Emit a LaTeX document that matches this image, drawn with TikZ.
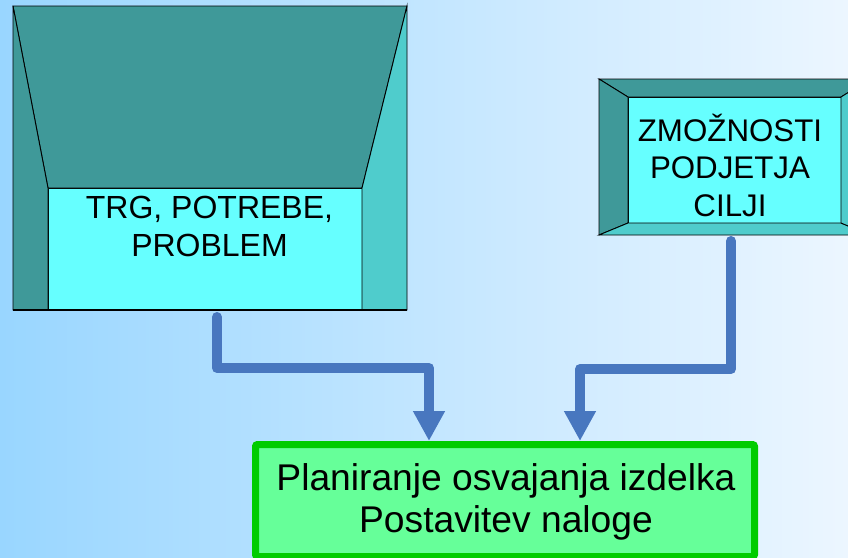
\documentclass[tikz,border=0pt]{standalone}
\usepackage{fontspec}
\setmainfont{Liberation Sans}
\usetikzlibrary{positioning, arrows.meta}
\definecolor{BgBlue}{RGB}{153,214,255}
\definecolor{BgWhite}{RGB}{236,246,255}
\definecolor{TealDark}{RGB}{63,153,153}
\definecolor{TealLight}{RGB}{79,204,204}
\definecolor{CyanFace}{RGB}{102,255,255}
\definecolor{FlowBlue}{RGB}{72,119,191}
\definecolor{PlanGreen}{RGB}{102,255,153}
\definecolor{PlanBorder}{RGB}{0,204,0}
\tikzset{
  facebox/.style={rectangle, draw=black, line width=0.9pt, fill=CyanFace, inner sep=0pt, outer sep=0pt},
  bevel/.style={draw=black, line width=0.9pt, line join=miter},
  boxtext/.style={align=center, inner sep=0pt, text=black},
  planbox/.style={rectangle, rounded corners=2pt, draw=PlanBorder, line width=7pt, fill=PlanGreen, minimum width=499pt, minimum height=112pt},
  flow/.style={draw=FlowBlue, line width=10pt, line join=round, line cap=round, -{Triangle[length=30pt, width=30pt]}}
}

\begin{document}
\begin{tikzpicture}[x=1pt, y=-1pt]
  % background
  \useasboundingbox (0,0) rectangle (848,557);
  \clip (0,0) rectangle (848,557);
  \fill[left color=BgBlue, right color=BgWhite] (0,0) rectangle (848,557);

  % left box
  \node[facebox, minimum width=314pt, minimum height=122pt] (trg) at (205,249) {};
  \coordinate (trgNW) at (13,6);
  \coordinate (trgNE) at (407,6);
  \coordinate (trgSW) at (13,310);
  \coordinate (trgSE) at (407,310);
  \filldraw[bevel, fill=TealDark] (trgNW) -- (trgNE) -- (trg.north east) -- (trg.north west) -- cycle;
  \filldraw[bevel, fill=TealDark] (trgNW) -- (trg.north west) -- (trg.south west) -- (trgSW) -- cycle;
  \filldraw[bevel, fill=TealLight] (trgNE) -- (trgSE) -- (trg.south east) -- (trg.north east) -- cycle;
  \draw[line width=1.6pt] (trgSW) -- (trgSE);
  \node[boxtext, font=\fontsize{32}{38}\selectfont, above=53pt of trg.south, xshift=4.5pt] (trgtext) {TRG, POTREBE,\\PROBLEM};

  % right box
  \node[facebox, minimum width=213pt, minimum height=126pt] (zmoz) at (734.5,160) {};
  \coordinate (zmozNW) at (599,79);
  \coordinate (zmozNE) at (870,79);
  \coordinate (zmozSW) at (599,235);
  \coordinate (zmozSE) at (870,235);
  \filldraw[bevel, fill=TealDark] (zmozNW) -- (zmozNE) -- (zmoz.north east) -- (zmoz.north west) -- cycle;
  \filldraw[bevel, fill=TealDark] (zmozNW) -- (zmoz.north west) -- (zmoz.south west) -- (zmozSW) -- cycle;
  \filldraw[bevel, fill=TealLight] (zmozSW) -- (zmoz.south west) -- (zmoz.south east) -- (zmozSE) -- cycle;
  \filldraw[bevel, fill=TealLight] (zmozNE) -- (zmozSE) -- (zmoz.south east) -- (zmoz.north east) -- cycle;
  \node[boxtext, font=\fontsize{31.3}{37.5}\selectfont, above=6pt of zmoz.south, xshift=-4.5pt] (zmoztext) {ZMOŽNOSTI\\PODJETJA\\CILJI};

  % bottom box
  \node[planbox] (plan) at (505,500.5) {};
  \node[boxtext, font=\fontsize{37.2}{42}\selectfont, below=22pt of plan.north, xshift=1pt] (plantext) {Planiranje osvajanja izdelka\\Postavitev naloge};

  % connectors
  \draw[flow] ([xshift=12pt, yshift=-7pt]trg.south) -- ++(0pt,-51pt) -| ([xshift=-76pt]plan.north);
  \draw[flow] ([xshift=-3.5pt, yshift=-18pt]zmoz.south) -- ++(0pt,-128pt) -| ([xshift=75pt]plan.north);
\end{tikzpicture}
\end{document}
